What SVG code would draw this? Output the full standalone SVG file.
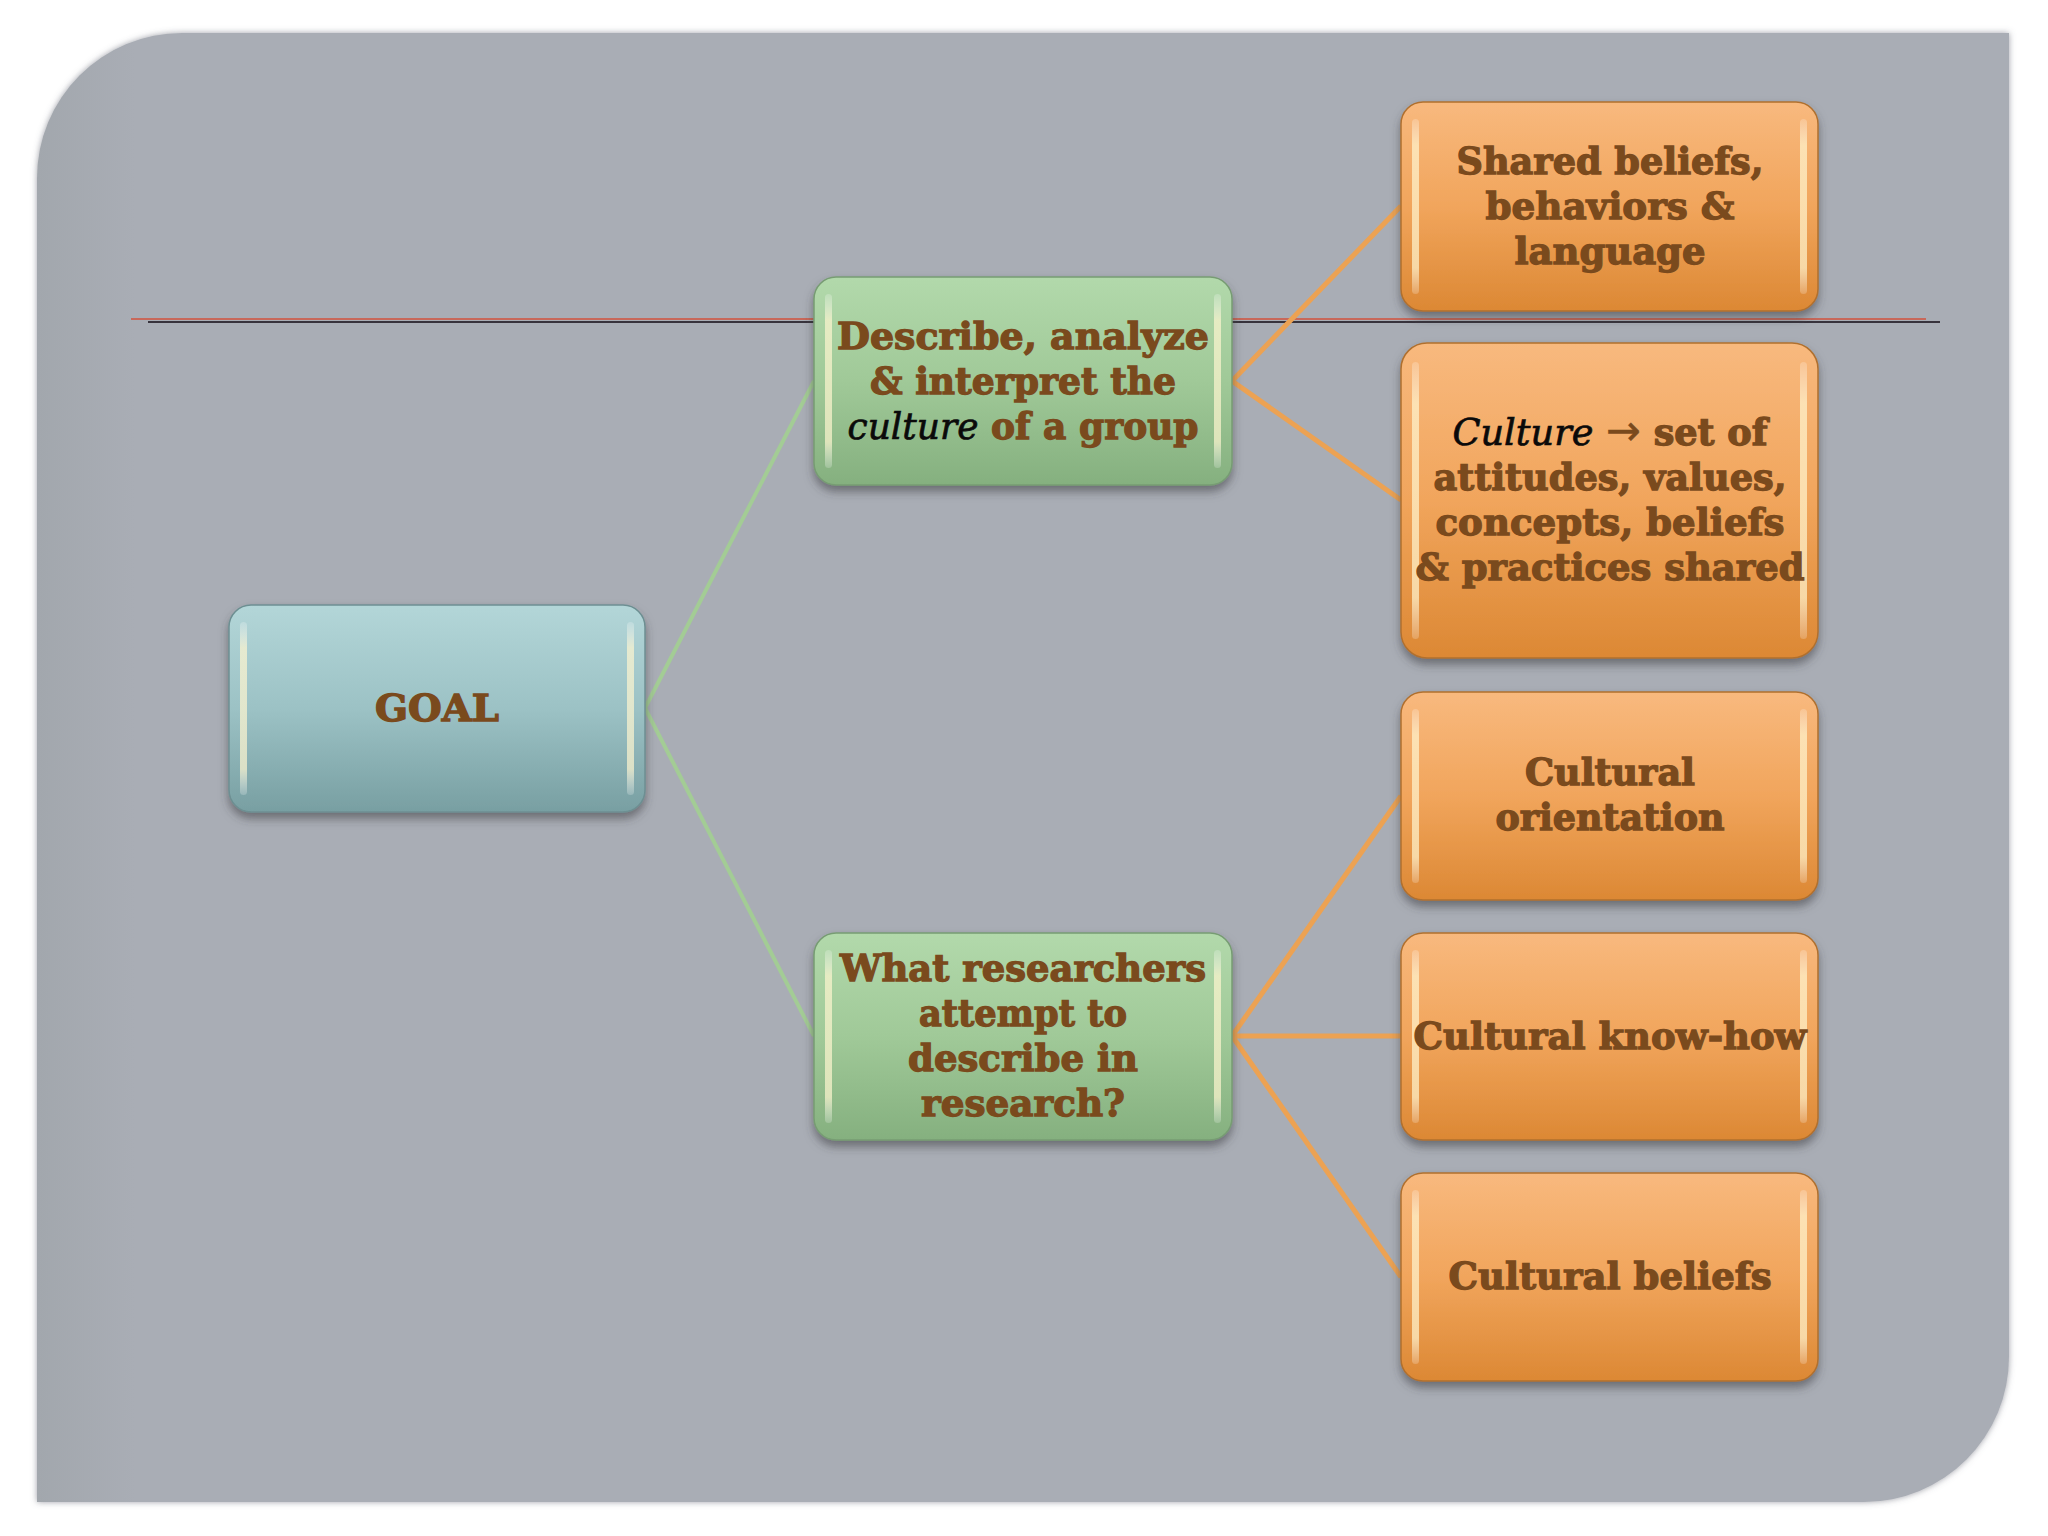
<svg xmlns="http://www.w3.org/2000/svg" width="2048" height="1536" viewBox="0 0 2048 1536">
<defs>
<linearGradient id="gOr" x1="0" y1="0" x2="0" y2="1"><stop offset="0" stop-color="#f8b97e"/><stop offset="0.5" stop-color="#f1a55c"/><stop offset="1" stop-color="#dc8834"/></linearGradient>
<linearGradient id="gGr" x1="0" y1="0" x2="0" y2="1"><stop offset="0" stop-color="#b2d9ab"/><stop offset="0.5" stop-color="#a0c998"/><stop offset="1" stop-color="#85b07f"/></linearGradient>
<linearGradient id="gTe" x1="0" y1="0" x2="0" y2="1"><stop offset="0" stop-color="#b3d6d8"/><stop offset="0.5" stop-color="#9cc2c5"/><stop offset="1" stop-color="#789fa2"/></linearGradient>
<linearGradient id="gHi" x1="0" y1="0" x2="0" y2="1"><stop offset="0" stop-color="#ffffff" stop-opacity="0.2"/><stop offset="0.15" stop-color="#fff6d0" stop-opacity="0.7"/><stop offset="0.85" stop-color="#fff6d0" stop-opacity="0.7"/><stop offset="1" stop-color="#ffffff" stop-opacity="0.2"/></linearGradient>
<linearGradient id="gPanel" x1="0" y1="0" x2="1" y2="0"><stop offset="0" stop-color="#a2a7ad"/><stop offset="0.05" stop-color="#a9adb5"/><stop offset="1" stop-color="#a9adb5"/></linearGradient>
<filter id="sh" x="-10%" y="-10%" width="120%" height="130%"><feDropShadow dx="0" dy="6" stdDeviation="5" flood-color="#3a3a40" flood-opacity="0.55"/></filter>
<filter id="psh" x="-5%" y="-5%" width="110%" height="110%"><feDropShadow dx="0" dy="0" stdDeviation="3" flood-color="#606470" flood-opacity="0.6"/></filter>
</defs>
<style>
.t{font-family:"DejaVu Serif","Liberation Serif",serif;font-weight:bold;font-size:37px;fill:#7a4a1d;stroke:#7a4a1d;stroke-width:1.3;text-anchor:middle;}
.i{font-family:"DejaVu Serif","Liberation Serif",serif;font-style:italic;font-weight:normal;fill:#0a0a0a;stroke:#0a0a0a;stroke-width:0.7;}
.ar{font-family:"DejaVu Sans",sans-serif;font-weight:normal;font-size:42px;stroke-width:0.4;}
.or{fill:url(#gOr);stroke:#b0702e;stroke-width:1.5;filter:url(#sh);}
.gr{fill:url(#gGr);stroke:#779c73;stroke-width:1.5;filter:url(#sh);}
.te{fill:url(#gTe);stroke:#6d8f92;stroke-width:1.5;filter:url(#sh);}
.hi{fill:url(#gHi);}
.cg{stroke:#a3cc95;stroke-width:4;fill:none;}
.co{stroke:#eca253;stroke-width:5;fill:none;}
</style>
<rect width="2048" height="1536" fill="#ffffff"/>
<path d="M 182 33 H 2009 V 1357 A 145 145 0 0 1 1864 1502 H 37 V 178 A 145 145 0 0 1 182 33 Z" fill="url(#gPanel)" filter="url(#psh)"/>
<g id="rule">
<line x1="131" y1="319" x2="1926" y2="319" stroke="#c8685a" stroke-width="2"/>
<line x1="148" y1="322" x2="1940" y2="322" stroke="#38333c" stroke-width="2"/>
</g>
<g id="connectors">
<line class="cg" x1="645" y1="708" x2="814" y2="381"/>
<line class="cg" x1="645" y1="708" x2="814" y2="1036"/>
<line class="co" x1="1232" y1="381" x2="1401" y2="206"/>
<line class="co" x1="1232" y1="381" x2="1401" y2="500"/>
<line class="co" x1="1232" y1="1036" x2="1401" y2="796"/>
<line class="co" x1="1232" y1="1036" x2="1401" y2="1036"/>
<line class="co" x1="1232" y1="1036" x2="1401" y2="1277"/>
</g>
<g id="goal">
<rect class="te" x="229" y="605" width="416" height="207" rx="22"/>
<rect class="hi" x="240" y="622" width="7" height="173" rx="3.5"/>
<rect class="hi" x="627" y="622" width="7" height="173" rx="3.5"/>
<text class="t" x="437" y="721" textLength="124" lengthAdjust="spacingAndGlyphs">GOAL</text>
</g>
<g id="describe">
<rect class="gr" x="814" y="277" width="418" height="208" rx="22"/>
<rect class="hi" x="825" y="294" width="7" height="174" rx="3.5"/>
<rect class="hi" x="1214" y="294" width="7" height="174" rx="3.5"/>
<text class="t" x="1023" y="349" textLength="372" lengthAdjust="spacingAndGlyphs">Describe, analyze</text>
<text class="t" x="1023" y="394" textLength="306" lengthAdjust="spacingAndGlyphs">&amp; interpret the</text>
<text class="t" x="1023" y="439" textLength="351" lengthAdjust="spacingAndGlyphs"><tspan class="i">culture</tspan> of a group</text>
</g>
<g id="what">
<rect class="gr" x="814" y="933" width="418" height="207" rx="22"/>
<rect class="hi" x="825" y="950" width="7" height="173" rx="3.5"/>
<rect class="hi" x="1214" y="950" width="7" height="173" rx="3.5"/>
<text class="t" x="1023" y="981" textLength="366" lengthAdjust="spacingAndGlyphs">What researchers</text>
<text class="t" x="1023" y="1026" textLength="208" lengthAdjust="spacingAndGlyphs">attempt to</text>
<text class="t" x="1023" y="1071" textLength="230" lengthAdjust="spacingAndGlyphs">describe in</text>
<text class="t" x="1023" y="1116" textLength="204" lengthAdjust="spacingAndGlyphs">research?</text>
</g>
<g id="shared">
<rect class="or" x="1401" y="102" width="417" height="209" rx="22"/>
<rect class="hi" x="1412" y="119" width="7" height="175" rx="3.5"/>
<rect class="hi" x="1800" y="119" width="7" height="175" rx="3.5"/>
<text class="t" x="1610" y="174" textLength="307" lengthAdjust="spacingAndGlyphs">Shared beliefs,</text>
<text class="t" x="1610" y="219" textLength="249" lengthAdjust="spacingAndGlyphs">behaviors &amp;</text>
<text class="t" x="1610" y="264" textLength="191" lengthAdjust="spacingAndGlyphs">language</text>
</g>
<g id="culture-def">
<rect class="or" x="1401" y="343" width="417" height="315" rx="26"/>
<rect class="hi" x="1412" y="362" width="7" height="277" rx="3.5"/>
<rect class="hi" x="1800" y="362" width="7" height="277" rx="3.5"/>
<text class="t" x="1610" y="445" textLength="315" lengthAdjust="spacingAndGlyphs"><tspan class="i">Culture</tspan> <tspan class="ar">→</tspan> set of</text>
<text class="t" x="1610" y="490" textLength="353" lengthAdjust="spacingAndGlyphs">attitudes, values,</text>
<text class="t" x="1610" y="535" textLength="349" lengthAdjust="spacingAndGlyphs">concepts, beliefs</text>
<text class="t" x="1610" y="580" textLength="389" lengthAdjust="spacingAndGlyphs">&amp; practices shared</text>
</g>
<g id="orientation">
<rect class="or" x="1401" y="692" width="417" height="208" rx="22"/>
<rect class="hi" x="1412" y="709" width="7" height="174" rx="3.5"/>
<rect class="hi" x="1800" y="709" width="7" height="174" rx="3.5"/>
<text class="t" x="1610" y="785" textLength="170" lengthAdjust="spacingAndGlyphs">Cultural</text>
<text class="t" x="1610" y="830" textLength="229" lengthAdjust="spacingAndGlyphs">orientation</text>
</g>
<g id="knowhow">
<rect class="or" x="1401" y="933" width="417" height="207" rx="22"/>
<rect class="hi" x="1412" y="950" width="7" height="173" rx="3.5"/>
<rect class="hi" x="1800" y="950" width="7" height="173" rx="3.5"/>
<text class="t" x="1610" y="1049" textLength="393" lengthAdjust="spacingAndGlyphs">Cultural know-how</text>
</g>
<g id="beliefs">
<rect class="or" x="1401" y="1173" width="417" height="208" rx="22"/>
<rect class="hi" x="1412" y="1190" width="7" height="174" rx="3.5"/>
<rect class="hi" x="1800" y="1190" width="7" height="174" rx="3.5"/>
<text class="t" x="1610" y="1289" textLength="323" lengthAdjust="spacingAndGlyphs">Cultural beliefs</text>
</g>
</svg>
